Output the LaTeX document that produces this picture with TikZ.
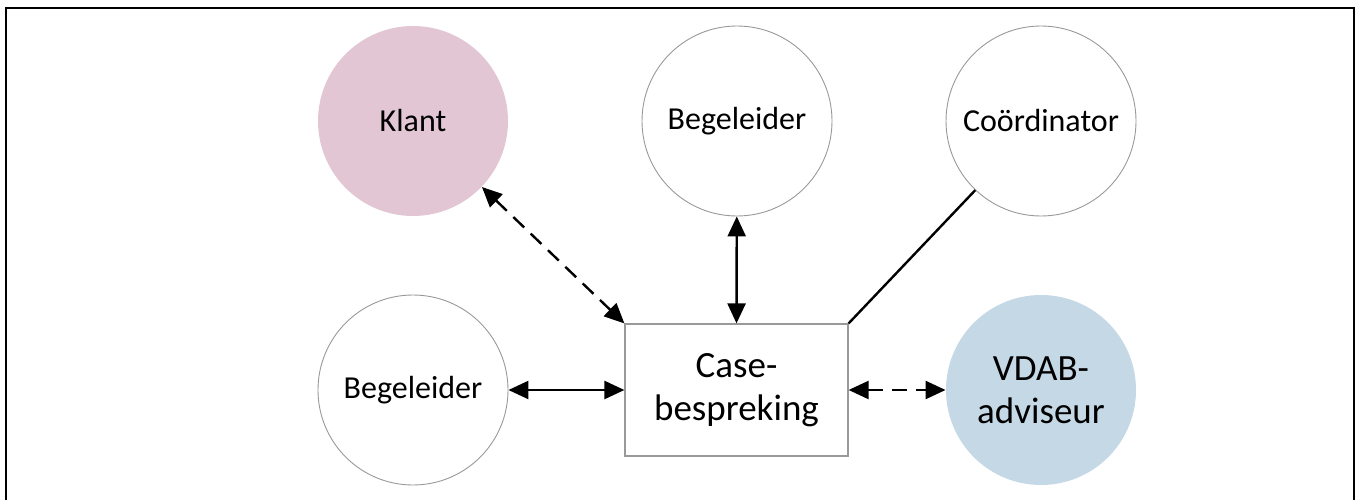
\documentclass[tikz,border=0pt]{standalone}
\usepackage{fontspec}
\setmainfont{Carlito}
\usetikzlibrary{arrows.meta}

\begin{document}
\begin{tikzpicture}[x=1pt,y=-1pt,
	line cap=butt,line join=miter,
	party/.style={circle,draw=black!40,line width=0.9pt,minimum size=190pt,inner sep=0pt,
		align=center,font=\fontsize{32}{38}\selectfont},
	meeting/.style={rectangle,draw=black!40,line width=1.2pt,minimum width=223pt,minimum height=132pt,
		align=center,font=\fontsize{37}{43}\selectfont},
	link/.style={line width=2.4pt},
	both/.style={link,{Triangle[length=20pt,width=18pt]}-{Triangle[length=20pt,width=18pt]}},
	loose/.style={both,dash pattern=on 15pt off 9pt}]

	\useasboundingbox (0,0) rectangle (1359,500);
	\draw[line width=2pt] (6,500) -- (6,8) -- (1354,8) -- (1354,500);

	% top row
	\node[party,fill={rgb,255:red,227;green,198;blue,212},draw=none] (klant) at (413,121) {Klant};
	\node[party] (beg1) at (737,121) {Begeleider};
	\node[party] (coord) at (1041,121) {Coördinator};

	% bottom row
	\node[party] (beg2) at (413,390) {Begeleider};
	\node[meeting] (case) at (736.5,390) {Case-\\bespreking};
	\node[party,fill={rgb,255:red,197;green,216;blue,230},draw=none,
		font=\fontsize{37}{43}\selectfont] (vdab) at (1041,390) {VDAB-\\adviseur};

	% connections
	\draw[loose] (klant) -- (case.north west);
	\draw[both] (beg1) -- (case.north);
	\draw[link] (coord) -- (case.north east);
	\draw[both] (beg2) -- (case.west);
	\draw[loose] (case.east) -- (vdab);
\end{tikzpicture}
\end{document}
